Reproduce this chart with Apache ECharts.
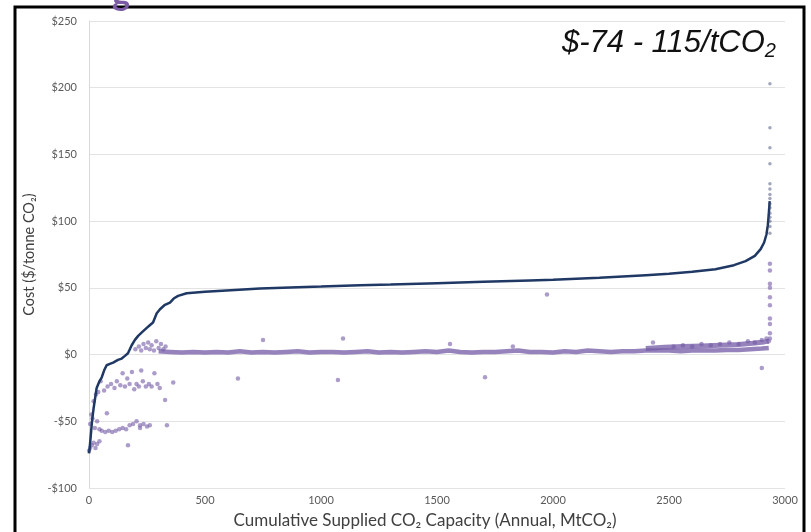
<!DOCTYPE html>
<html><head><meta charset="utf-8">
<script src="https://cdn.jsdelivr.net/npm/echarts@6/dist/echarts.min.js"></script>
<style>html,body{margin:0;padding:0;background:#fff}#c{width:811px;height:532px}</style>
</head><body><div id="c"></div>
<script>
// ---- data (cumulative capacity MtCO2, cost $/tCO2) ----
var xTicks = [0, 500, 1000, 1500, 2000, 2500, 3000];
var yTicks = [-100, -50, 0, 50, 100, 150, 200, 250];

var supplyCurve = [[0,-74],[3,-70],[8,-60],[13,-50],[20,-40],[33,-25],[45,-20],[55,-17],[65,-12],[76,-8],[90,-7],[104,-6],[125,-4],[141,-3],[155,-1],[168,1],[176,4],[184,7],[198,11],[212,14],[230,17],[249,20],[262,22],[276,24],[285,28],[292,31],[306,34],[325,37],[349,39],[365,42],[384,44],[421,46],[500,47],[593,48],[737,49.5],[900,50.5],[1000,51],[1168,52],[1300,52.5],[1500,53.5],[1700,54.5],[1900,55.5],[2000,56],[2200,57.5],[2400,59.5],[2500,60.5],[2600,62],[2700,64],[2780,67],[2830,70],[2870,74],[2895,79],[2910,84],[2920,90],[2926,97],[2930,105],[2934,115]];

var highOutliers = [[2935,203],[2935,170],[2935,155],[2935,143],[2935,128],[2935,124],[2935,120],[2935,117],[2935,113],[2935,110],[2935,106],[2935,103],[2935,100],[2935,96],[2935,91]];

var netBand = [[300,2.5],[350,2],[400,1.5],[450,2],[500,1.5],[550,2],[600,1.5],[650,2.5],[700,1.5],[750,2],[800,1.5],[850,2],[900,2.5],[950,1.5],[1000,2],[1050,2],[1100,1.5],[1150,2],[1200,2.5],[1250,1.5],[1300,2],[1350,1.5],[1400,2],[1450,2.5],[1500,2],[1550,3],[1600,2],[1650,1.5],[1700,2],[1750,2],[1800,2.5],[1850,3],[1900,2],[1950,2],[2000,1.5],[2050,2.5],[2100,2],[2150,3],[2200,2.5],[2250,2],[2300,2.5],[2350,2.5],[2400,3],[2450,3],[2500,3],[2550,2.5],[2600,3],[2650,3],[2700,3],[2750,3.5],[2800,3.5],[2850,4],[2900,4.5],[2930,5]];

var netBandUpper = [[2400,4.5],[2480,5.5],[2560,6],[2640,6.5],[2720,7],[2800,7.5],[2860,8.5],[2910,9.5],[2930,10]];

var netScatter = [
 [0,-72],[5,-70],[12,-68],[20,-66],[28,-70],[35,-67],[45,-65],
 [5,-52],[15,-48],[25,-55],[35,-50],[45,-56],[55,-57],[70,-58],[85,-57],[100,-58],[115,-57],[130,-56],[145,-55],[160,-56],[175,-53],[190,-52],[205,-50],[220,-53],[235,-52],[250,-54],[262,-53],
 [10,-45],[20,-35],[30,-30],[40,-28],[50,-20],[77,-44],[168,-68],[220,-55],[336,-53],[328,-34],[363,-21],
 [65,-27],[80,-24],[95,-22],[110,-25],[120,-20],[135,-23],[145,-14],[155,-24],[165,-18],[175,-22],[185,-13],[195,-26],[205,-22],[215,-24],[225,-12],[232,-20],[245,-24],[258,-22],[270,-24],[282,-14],[295,-22],[305,-25],
 [200,4],[215,6],[225,3],[235,8],[245,5],[255,9],[262,4],[270,7],[280,3],[290,10],[300,5],[310,8],[320,4],[330,6],
 [642,-18],[1073,-19],[1707,-17],[750,11],[1095,12],[1974,45],[1556,8],[1827,6],[2431,9],[2900,-10],
 [2520,6],[2560,7],[2600,6],[2640,8],[2680,7],[2720,8],[2760,9],[2800,8],[2840,10],[2870,9],[2900,11],[2920,12],[2930,10],
 [2935,68],[2935,63],[2935,53],[2935,50],[2935,43],[2935,37],[2935,27],[2935,23],[2935,16],[2935,12]
];

var purple = 'rgba(115,90,165,0.75)';
var navy = '#1f3864';

var chart = echarts.init(document.getElementById('c'));
chart.setOption({
  animation: false,
  backgroundColor: '#ffffff',
  grid: {left: 89, right: 26, top: 21, bottom: 44, containLabel: false, outerBoundsMode: 'none'},
  xAxis: {
    type: 'value', min: xTicks[0], max: xTicks[xTicks.length-1], interval: 500,
    name: 'Cumulative Supplied CO\u2082 Capacity (Annual, MtCO\u2082)',
    nameLocation: 'middle', nameGap: 24,
    nameTextStyle: {fontFamily: 'Lato', fontSize: 17, color: '#404040', padding: [0, 24, 0, 0]},
    axisLine: {show: false}, axisTick: {show: false},
    axisLabel: {fontFamily: 'Lato', fontSize: 11, color: '#595959', margin: 7,
      formatter: function (v) { return String(v); }},
    splitLine: {show: false}
  },
  yAxis: {
    type: 'value', min: yTicks[0], max: yTicks[yTicks.length-1], interval: 50,
    name: 'Cost ($/tonne CO\u2082)', nameLocation: 'middle', nameGap: 37,
    nameTextStyle: {fontFamily: 'Lato', fontSize: 14.5, color: '#404040'},
    axisLine: {show: true, lineStyle: {color: '#d9d9d9'}}, axisTick: {show: false},
    axisLabel: {fontFamily: 'Lato', fontSize: 11, color: '#595959', margin: 12,
      formatter: function (v) { return v < 0 ? '-$' + (-v) : '$' + v; }},
    splitLine: {show: true, lineStyle: {color: '#e3e3e3', width: 1}}
  },
  series: [
    {type: 'line', data: netBand, showSymbol: false, lineStyle: {color: purple, width: 4.5}, z: 2},
    {type: 'line', data: netBandUpper, showSymbol: false, lineStyle: {color: purple, width: 5}, z: 2},
    {type: 'scatter', data: netScatter, symbolSize: 4.5, itemStyle: {color: purple}, z: 3},
    {type: 'line', data: supplyCurve, showSymbol: false, lineStyle: {color: navy, width: 2.5}, z: 4},
    {type: 'scatter', data: highOutliers, symbolSize: 3.5, itemStyle: {color: 'rgba(60,70,110,0.6)'}, z: 4}
  ],
  graphic: [
    {type: 'rect', shape: {x: 15, y: 7, width: 789, height: 540}, style: {fill: 'none', stroke: '#000', lineWidth: 3}, z: 100},
    {type: 'text', x: 112, y: -23, style: {text: 'g', font: 'bold 34px Lato', fill: '#7b5ba6'}, z: 100},
    {type: 'text', x: 562, y: 25, style: {
      rich: {m: {font: 'italic 31px "Liberation Sans"', fill: '#111'}, s: {font: 'italic 20px "Liberation Sans"', fill: '#111', padding: [16, 0, 0, 0]}},
      text: '{m|$-74 - 115/tCO}{s|2}'}, z: 100}
  ]
});
</script></body></html>
